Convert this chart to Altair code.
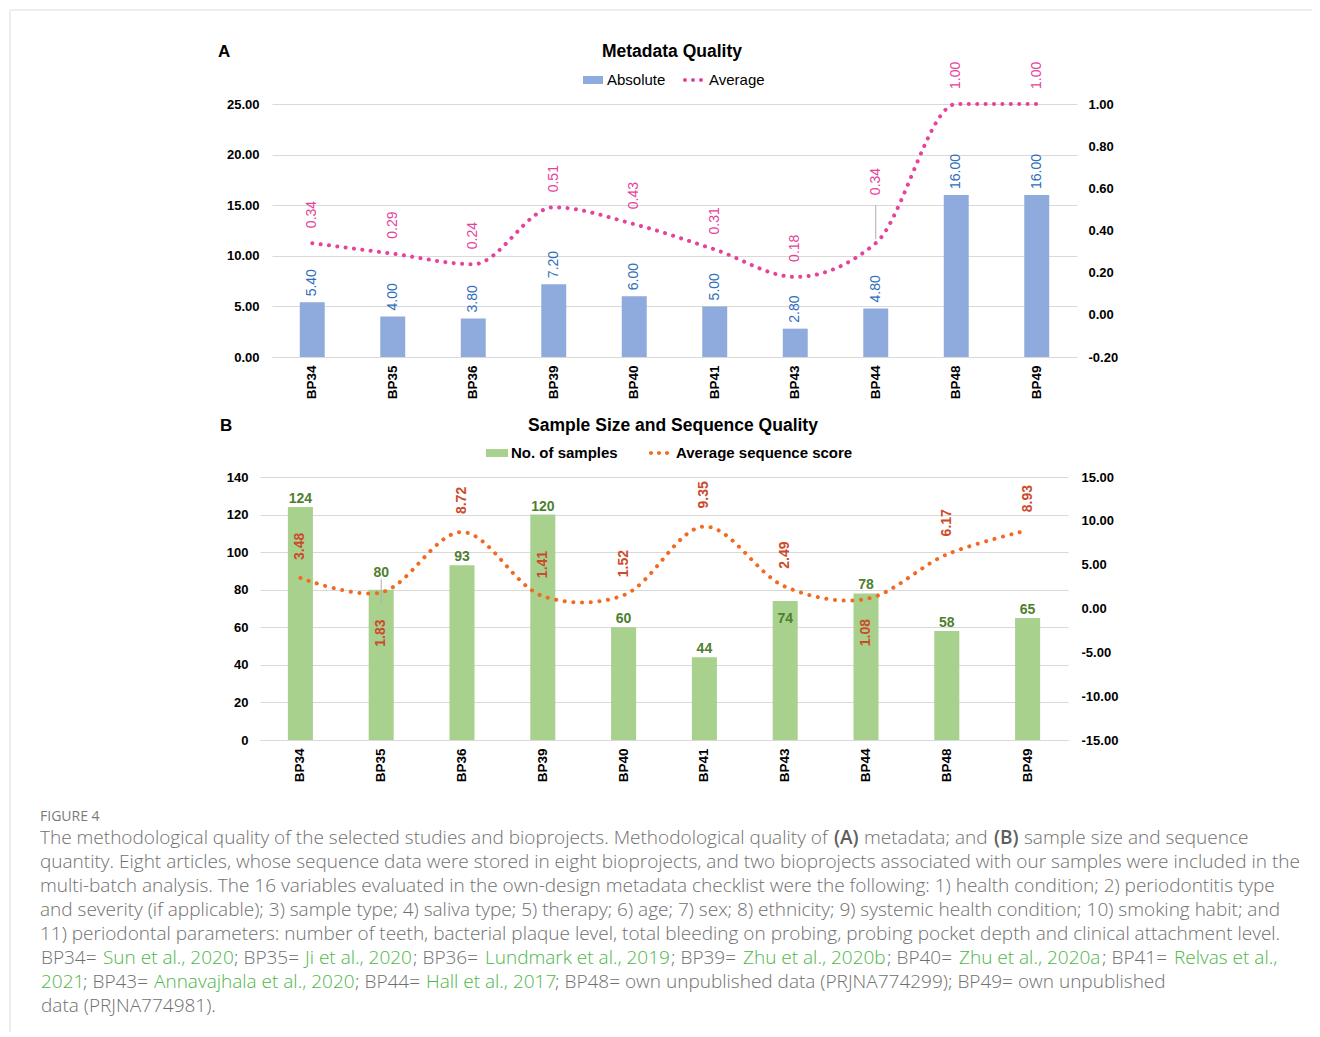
import altair as alt
import pandas as pd

# ---------------- data ----------------
categories = ["BP34", "BP35", "BP36", "BP39", "BP40", "BP41", "BP43", "BP44", "BP48", "BP49"]
absolute = [5.40, 4.00, 3.80, 7.20, 6.00, 5.00, 2.80, 4.80, 16.00, 16.00]
average = [0.34, 0.29, 0.24, 0.51, 0.43, 0.31, 0.18, 0.34, 1.00, 1.00]
samples = [124, 80, 93, 120, 60, 44, 74, 78, 58, 65]
seq_score = [3.48, 1.83, 8.72, 1.41, 1.52, 9.35, 2.49, 1.08, 6.17, 8.93]

left_ticks_a = [0, 5, 10, 15, 20, 25]
right_ticks_a = [-0.2, 0, 0.2, 0.4, 0.6, 0.8, 1.0]
left_ticks_b = [0, 20, 40, 60, 80, 100, 120, 140]
right_ticks_b = [-15, -10, -5, 0, 5, 10, 15]

# ---------------- layout / style ----------------
W, H = 1304, 1024
F = "Liberation Sans"
CF = "Open Sans"
GRID = "#D9D9D9"
BLUE_BAR = "#8FAADC"
BLUE_TXT = "#2F6EBA"
PINK = "#E6429B"
GREEN_BAR = "#A9D18E"
GREEN_TXT = "#4E7F2F"
ORANGE = "#F26A22"
RED_TXT = "#CC4B2C"
CAP_GRAY = "#6F6F6F"
CAP_GREEN = "#4DB548"
HYPHEN_2F = "(datum.value < 0 ? '-' : '') + format(abs(datum.value), '.2f')"
# legend symbol: three round dots
DOTS = ("M-1,0a0.2,0.2 0 1,0 0.4,0a0.2,0.2 0 1,0 -0.4,0Z"
        "M-0.2,0a0.2,0.2 0 1,0 0.4,0a0.2,0.2 0 1,0 -0.4,0Z"
        "M0.6,0a0.2,0.2 0 1,0 0.4,0a0.2,0.2 0 1,0 -0.4,0Z")

dfA = pd.DataFrame({"cat": categories, "absolute": absolute, "average": average})
dfA["bar_series"] = "Absolute"
dfA["line_series"] = "Average"
dfB = pd.DataFrame({"cat": categories, "samples": samples, "score": seq_score})
dfB["bar_series"] = "No. of samples"
dfB["line_series"] = "Average sequence score"


def x_enc(rng, offset):
    return alt.X(
        "cat:N", sort=categories,
        scale=alt.Scale(domain=categories, range=rng, paddingInner=0.69, paddingOuter=0.345),
        axis=alt.Axis(orient="bottom", offset=offset, title=None, labelAngle=270,
                      labelFont=F, labelFontSize=13.5, labelFontWeight="bold",
                      labelColor="#000000", labelPadding=8, ticks=False,
                      domainColor=GRID, grid=False))


def y_enc(field, dom, rng, orient, offset, values, expr, pad, grid):
    return alt.Y(
        field, scale=alt.Scale(domain=dom, range=rng, nice=False, zero=False),
        axis=alt.Axis(orient=orient, offset=offset, values=values, labelExpr=expr, title=None,
                      grid=grid, gridColor=GRID, domain=False, ticks=False,
                      labelPadding=pad, labelFont=F, labelFontSize=13,
                      labelFontWeight="bold", labelColor="#000000"))


# ---------------- panel A ----------------
xA = x_enc([264, 1069], 349 - H)
yA_l = y_enc("absolute:Q", [0, 25], [349, 96], "left", -264, left_ticks_a, HYPHEN_2F, 13, True)
yA_r = y_enc("average:Q", [-0.2, 1.0], [349, 96], "right", 1069 - W, right_ticks_a, HYPHEN_2F, 11, False)

bars_a = alt.Chart(dfA).mark_bar().encode(
    x=xA, y=yA_l,
    fill=alt.Fill("bar_series:N", scale=alt.Scale(domain=["Absolute"], range=[BLUE_BAR]),
                  legend=alt.Legend(orient="none", legendX=575, legendY=62, title=None,
                                    symbolType="M-1,-0.4H1V0.4H-1Z", symbolSize=400,
                                    symbolStrokeWidth=0, labelFont=F, labelFontSize=15,
                                    labelColor="#000000", labelOffset=4)))
bar_lab_a = alt.Chart(dfA).mark_text(angle=270, align="left", baseline="middle", dx=6,
                                     font=F, fontSize=14, color=BLUE_TXT).encode(
    x=xA, y=yA_l, text=alt.Text("absolute:Q", format=".2f"))

line_a = alt.Chart(dfA).mark_line(interpolate="monotone", strokeDash=[0.1, 8.3],
                                  strokeCap="round", strokeWidth=4).encode(
    x=xA, y=yA_r,
    stroke=alt.Stroke("line_series:N", scale=alt.Scale(domain=["Average"], range=[PINK]),
                      legend=alt.Legend(orient="none", legendX=675, legendY=62, title=None,
                                        symbolType=DOTS, symbolSize=400,
                                        symbolFillColor=PINK, symbolStrokeWidth=0,
                                        labelFont=F, labelFontSize=15,
                                        labelColor="#000000", labelOffset=6)))
line_lab_a = alt.Chart(dfA).mark_text(angle=270, align="left", baseline="middle", dx=15,
                                      font=F, fontSize=14, color=PINK).encode(
    x=xA, y=yA_r, text=alt.Text("average:Q", format=".2f")).transform_filter(
    alt.datum.cat != "BP44")
line_lab_a2 = alt.Chart(dfA).mark_text(angle=270, align="left", baseline="middle", dx=48,
                                       font=F, fontSize=14, color=PINK).encode(
    x=xA, y=yA_r, text=alt.Text("average:Q", format=".2f")).transform_filter(
    alt.datum.cat == "BP44")
leader_a = alt.Chart(dfA).mark_rule(color="#B0B0B0", strokeWidth=1, yOffset=-4,
                                    y2Offset=-38).encode(
    x=xA, y=yA_r, y2="average:Q").transform_filter(alt.datum.cat == "BP44")

panel_a = alt.layer(
    alt.layer(bars_a, bar_lab_a),
    alt.layer(line_a, leader_a, line_lab_a, line_lab_a2),
).resolve_scale(y="independent")

# ---------------- panel B ----------------
xB = x_enc([252, 1060], 732 - H)
yB_l = y_enc("samples:Q", [0, 140], [732, 469], "left", -252, left_ticks_b,
             "format(datum.value, 'd')", 12, True)
yB_r = y_enc("score:Q", [-15, 15], [732, 469], "right", 1060 - W, right_ticks_b, HYPHEN_2F, 13, False)

bars_b = alt.Chart(dfB).mark_bar().encode(
    x=xB, y=yB_l,
    fill=alt.Fill("bar_series:N", scale=alt.Scale(domain=["No. of samples"], range=[GREEN_BAR]),
                  legend=alt.Legend(orient="none", legendX=478, legendY=434, title=None,
                                    symbolType="M-1,-0.36H1V0.36H-1Z", symbolSize=484,
                                    symbolStrokeWidth=0, labelFont=F, labelFontSize=15,
                                    labelFontWeight="bold", labelColor="#000000",
                                    labelOffset=3, labelLimit=400)))
bar_lab_b = alt.Chart(dfB).mark_text(baseline="alphabetic", dy=-4, font=F, fontSize=14,
                                     fontWeight="bold", color=GREEN_TXT).encode(
    x=xB, y=yB_l, text=alt.Text("samples:Q", format="d")).transform_filter(
    "datum.cat != 'BP35' && datum.cat != 'BP43'")
bar_lab_b2 = alt.Chart(dfB).mark_text(baseline="alphabetic", dy=-13, font=F, fontSize=14,
                                      fontWeight="bold", color=GREEN_TXT).encode(
    x=xB, y=yB_l, text=alt.Text("samples:Q", format="d")).transform_filter(
    alt.datum.cat == "BP35")
bar_lab_b3 = alt.Chart(dfB).mark_text(baseline="middle", dy=18, font=F, fontSize=14,
                                      fontWeight="bold", color=GREEN_TXT).encode(
    x=xB, y=yB_l, text=alt.Text("samples:Q", format="d")).transform_filter(
    alt.datum.cat == "BP43")
leader_b = alt.Chart(dfB).mark_rule(color="#B0B0B0", strokeWidth=1, yOffset=-11,
                                    y2Offset=15).encode(
    x=xB, y=yB_l, y2="samples:Q").transform_filter(alt.datum.cat == "BP35")

line_b = alt.Chart(dfB).mark_line(interpolate="catmull-rom", strokeDash=[0.1, 8.6],
                                  strokeCap="round", strokeWidth=4).encode(
    x=xB, y=yB_r,
    stroke=alt.Stroke("line_series:N",
                      scale=alt.Scale(domain=["Average sequence score"], range=[ORANGE]),
                      legend=alt.Legend(orient="none", legendX=641, legendY=435, title=None,
                                        symbolType=DOTS, symbolSize=400,
                                        symbolFillColor=ORANGE, symbolStrokeWidth=0,
                                        labelFont=F, labelFontSize=15, labelFontWeight="bold",
                                        labelColor="#000000", labelOffset=7, labelLimit=400)))
line_lab_b = alt.Chart(dfB).mark_text(angle=270, align="left", baseline="middle", dx=18,
                                      font=F, fontSize=14, fontWeight="bold",
                                      color=RED_TXT).encode(
    x=xB, y=yB_r, text=alt.Text("score:Q", format=".2f")).transform_filter(
    "datum.cat != 'BP35' && datum.cat != 'BP44'")
line_lab_b2 = alt.Chart(dfB).mark_text(angle=270, align="right", baseline="middle", dx=-27,
                                       font=F, fontSize=14, fontWeight="bold",
                                       color=RED_TXT).encode(
    x=xB, y=yB_r, text=alt.Text("score:Q", format=".2f")).transform_filter(
    alt.datum.cat == "BP35")
line_lab_b3 = alt.Chart(dfB).mark_text(angle=270, align="right", baseline="middle", dx=-20,
                                       font=F, fontSize=14, fontWeight="bold",
                                       color=RED_TXT).encode(
    x=xB, y=yB_r, text=alt.Text("score:Q", format=".2f")).transform_filter(
    alt.datum.cat == "BP44")

panel_b = alt.layer(
    alt.layer(bars_b, leader_b, bar_lab_b, bar_lab_b2, bar_lab_b3),
    alt.layer(line_b, line_lab_b, line_lab_b2, line_lab_b3),
).resolve_scale(y="independent")


# ---------------- annotations ----------------
def annot(text, x, y, **kw):
    return alt.Chart(pd.DataFrame({"t": [text]})).mark_text(baseline="middle", **kw).encode(
        text="t:N", x=alt.value(x), y=alt.value(y))


annots = [
    annot("A", 210, 44, font=F, fontSize=17, fontWeight="bold", align="left", color="#000000"),
    annot("Metadata Quality", 664, 44, font=F, fontSize=17.5, fontWeight="bold",
          align="center", color="#000000"),
    annot("B", 212, 418, font=F, fontSize=17, fontWeight="bold", align="left", color="#000000"),
    annot("Sample Size and Sequence Quality", 665, 418, font=F, fontSize=17.5,
          fontWeight="bold", align="center", color="#000000"),
    annot("FIGURE 4", 32, 809, font=CF, fontSize=14, align="left", color="#7A7A7A"),
]

cap_lines = [
    [(32, "The methodological quality of the selected studies and bioprojects. Methodological quality of", "g", False),
     (826, "(A)", "g", True), (856, "metadata; and", "g", False), (986, "(B)", "g", True),
     (1016, "sample size and sequence", "g", False)],
    [(32, "quantity. Eight articles, whose sequence data were stored in eight bioprojects, and two bioprojects associated with our samples were included in the", "g", False)],
    [(32, "multi-batch analysis. The 16 variables evaluated in the own-design metadata checklist were the following: 1) health condition; 2) periodontitis type", "g", False)],
    [(32, "and severity (if applicable); 3) sample type; 4) saliva type; 5) therapy; 6) age; 7) sex; 8) ethnicity; 9) systemic health condition; 10) smoking habit; and", "g", False)],
    [(32, "11) periodontal parameters: number of teeth, bacterial plaque level, total bleeding on probing, probing pocket depth and clinical attachment level.", "g", False)],
    [(33, "BP34=", "g", False), (95, "Sun et al., 2020", "G", False), (226, "; BP35=", "g", False),
     (297, "Ji et al., 2020", "G", False), (405, "; BP36=", "g", False),
     (477, "Lundmark et al., 2019", "G", False), (663, "; BP39=", "g", False),
     (735, "Zhu et al., 2020b", "G", False), (879, "; BP40=", "g", False),
     (951, "Zhu et al., 2020a", "G", False), (1094, "; BP41=", "g", False),
     (1166, "Relvas et al.,", "G", False)],
    [(33, "2021", "G", False), (75, "; BP43=", "g", False), (146, "Annavajhala et al., 2020", "G", False),
     (347, "; BP44=", "g", False), (418, "Hall et al., 2017", "G", False),
     (547, "; BP48= own unpublished data (PRJNA774299); BP49= own unpublished", "g", False)],
    [(33, "data (PRJNA774981).", "g", False)],
]
for i, segs in enumerate(cap_lines):
    yc = 830 + 24 * i
    for (xx, txt, col, bold) in segs:
        annots.append(annot(txt, xx, yc, font=CF, fontSize=19, align="left",
                            fontWeight=600 if bold else 300,
                            color=(CAP_GREEN if col == "G" else ("#5E5E5E" if bold else CAP_GRAY))))

border_l = alt.Chart(pd.DataFrame({"t": [0]})).mark_rule(color="#DDDDDD", strokeWidth=1).encode(
    x=alt.value(2), y=alt.value(2), y2=alt.value(H))
border_t = alt.Chart(pd.DataFrame({"t": [0]})).mark_rule(color="#DDDDDD", strokeWidth=1).encode(
    x=alt.value(2), x2=alt.value(W), y=alt.value(2))

chart = alt.layer(border_l, border_t, panel_a, panel_b, *annots).resolve_scale(
    x="independent", y="independent", fill="independent", stroke="independent"
).properties(
    width=W, height=H, padding=0, autosize=alt.AutoSizeParams(type="none")
).configure_view(stroke=None)

chart.save("out.html", embed_options={"renderer": "svg", "actions": False})
